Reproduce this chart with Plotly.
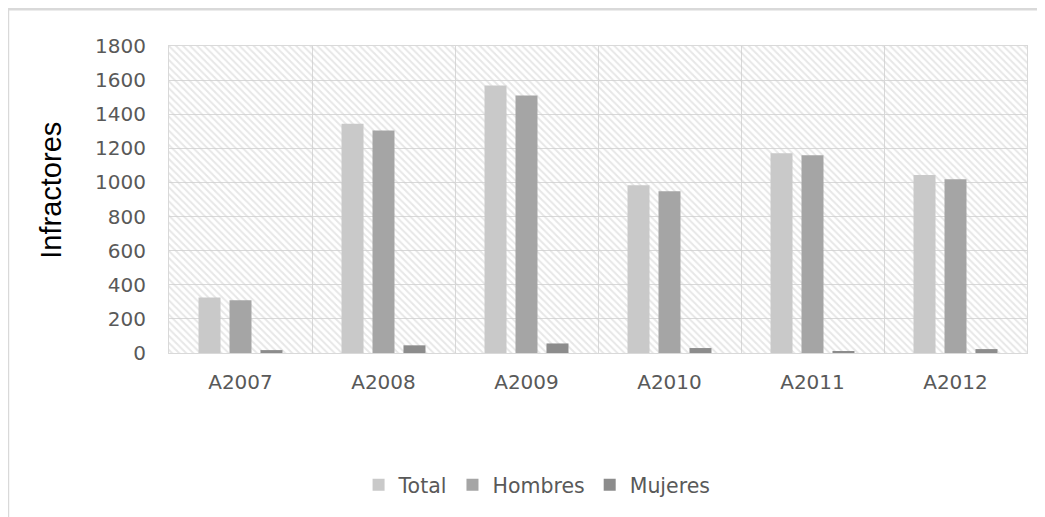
import plotly.graph_objects as go

categories = ["A2007", "A2008", "A2009", "A2010", "A2011", "A2012"]
total = [326, 1344, 1568, 984, 1171, 1044]
hombres = [309, 1305, 1510, 949, 1159, 1019]
mujeres = [17, 45, 56, 29, 10, 23]
y_max = 1800
y_ticks = list(range(0, 1801, 200))

series = [("Total", total, "#c9c9c9"), ("Hombres", hombres, "#a5a5a5"), ("Mujeres", mujeres, "#8c8c8c")]

tick_font = dict(family="DejaVu Sans, sans-serif", size=20, color="#595959")

fig = go.Figure()

# hatched plot-area background, one cell per category (drawn on the base axis)
fig.add_trace(go.Bar(
    x=categories, y=[y_max] * len(categories), xaxis="x", yaxis="y",
    marker=dict(color="rgba(0,0,0,0)", line=dict(width=0),
                pattern=dict(shape="\\", fgcolor="#cfcfcf", bgcolor="rgba(0,0,0,0)", size=5, solidity=0.4)),
    width=1.0, showlegend=False, hoverinfo="skip",
))

for name, vals, col in series:
    fig.add_trace(go.Bar(x=categories, y=vals, name=name, xaxis="x2", yaxis="y",
                         marker=dict(color=col, line=dict(width=0))))

fig.update_layout(
    width=1037, height=509,
    margin=dict(l=161, r=18, t=38, b=162),
    paper_bgcolor="white", plot_bgcolor="white",
    barmode="group", bargap=0.35, bargroupgap=0.29,
    xaxis=dict(type="category", categoryorder="array", categoryarray=categories,
               range=[-0.5, len(categories) - 0.5],
               tickfont=tick_font, tickson="boundaries", showgrid=True, gridcolor="#d9d9d9",
               gridwidth=1, showline=True, linecolor="#d9d9d9", mirror=True, ticks="",
               ticklabelstandoff=11, zeroline=False),
    xaxis2=dict(type="category", categoryorder="array", categoryarray=categories,
                overlaying="x", visible=False, range=[-0.5, len(categories) - 0.5]),
    yaxis=dict(range=[0, y_max], tickvals=y_ticks, tickfont=tick_font, showgrid=True,
               gridcolor="#d9d9d9", gridwidth=1, showline=True, linecolor="#d9d9d9", mirror=True,
               zeroline=False, ticks="", ticklabelstandoff=18),
    annotations=[dict(text="Infractores", xref="paper", yref="paper", x=-0.137, y=0.53,
                      xanchor="center", yanchor="middle", textangle=-90, showarrow=False,
                      font=dict(family="Liberation Sans, Arial, sans-serif", size=29, color="#000000"))],
    legend=dict(orientation="h", x=0.429, xanchor="center", y=-0.43, yanchor="middle",
                font=dict(family="DejaVu Sans, sans-serif", size=20.5, color="#595959"),
                itemwidth=30, traceorder="normal"),
    shapes=[dict(type="rect", xref="paper", yref="paper", x0=-0.1877, x1=1.2, y0=-0.7, y1=1.12,
                 line=dict(color="#d9d9d9", width=2.5), fillcolor="rgba(0,0,0,0)", layer="below")],
)

fig.write_html("out.html")
